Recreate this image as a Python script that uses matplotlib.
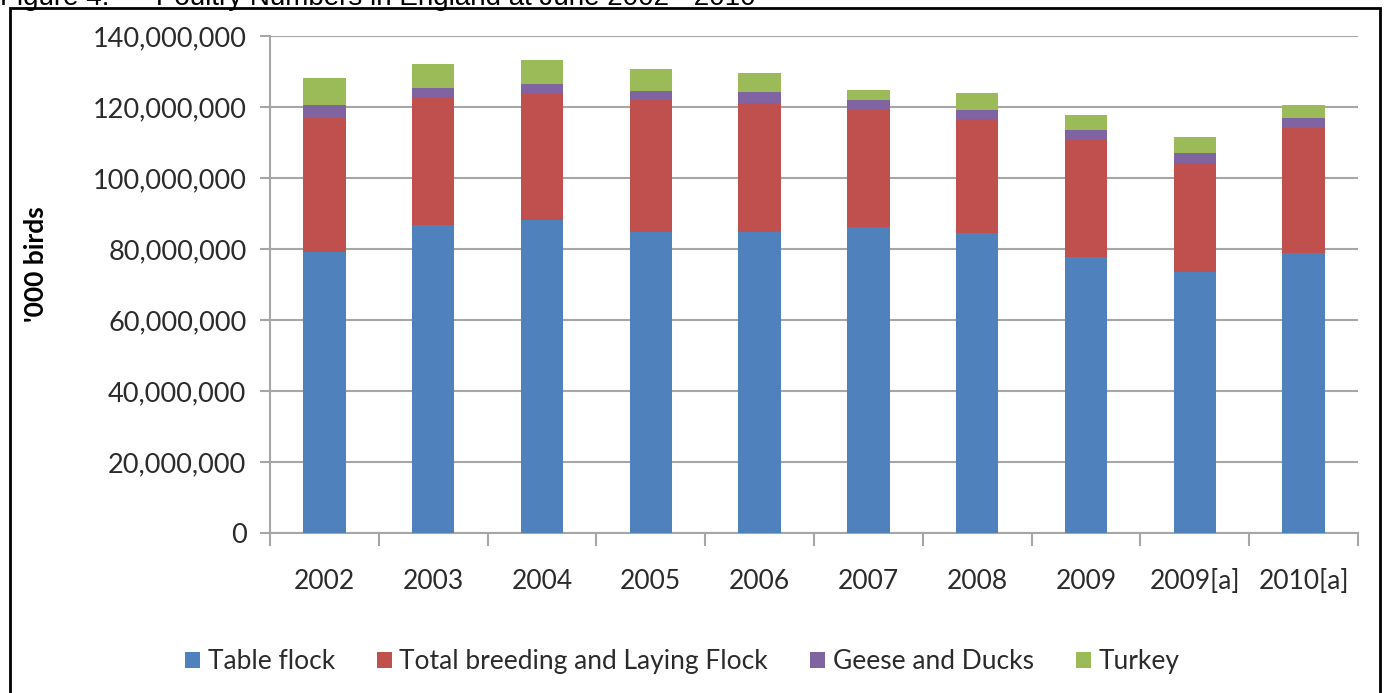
import matplotlib
matplotlib.use('Agg')
import matplotlib.pyplot as plt
from matplotlib.patches import Patch, Rectangle
from matplotlib.ticker import FuncFormatter, MultipleLocator
import numpy as np

# poultry numbers at June
years = ['2002', '2003', '2004', '2005', '2006', '2007', '2008', '2009', '2009[a]', '2010[a]']
table_flock = [79.2, 86.8, 88.2, 84.8, 84.8, 86.2, 84.5, 77.7, 73.5, 78.9]
breeding_laying = [37.7, 36.0, 35.7, 37.2, 36.3, 33.0, 32.1, 33.0, 30.7, 35.2]
geese_ducks = [3.7, 2.6, 2.6, 2.5, 3.1, 2.8, 2.6, 2.8, 2.8, 2.8]
turkey = [7.6, 6.7, 6.7, 6.2, 5.4, 2.8, 4.7, 4.2, 4.5, 3.7]

series = [('Table flock', table_flock, '#4F81BD'),
          ('Total breeding and Laying Flock', breeding_laying, '#C0504D'),
          ('Geese and Ducks', geese_ducks, '#8064A2'),
          ('Turkey', turkey, '#9BBB59')]

plt.rcParams['font.family'] = ['Lato', 'DejaVu Sans']

fig = plt.figure(figsize=[13.84, 6.93], dpi=100)
ax = fig.add_axes([270/1384, 1 - 533/693, (1358-270)/1384, (533-36)/693])

ind = np.arange(len(years))
bottom = np.zeros(len(years))
handles = []
for name, vals, col in series:
    vals = np.array(vals) * 1e6
    ax.bar(ind, vals, 0.39, bottom=bottom, color=col, linewidth=0, zorder=3)
    bottom += vals
    handles.append(Patch(facecolor=col, edgecolor='none', label=name))

ax.set_xlim(-0.5, len(years) - 0.5)
ax.set_ylim(0, 140e6)
ax.yaxis.set_major_locator(MultipleLocator(20e6))
ax.yaxis.set_major_formatter(FuncFormatter(lambda v, p: '{:,.0f}'.format(v)))
ax.grid(axis='y', color='#A6A6A6', linewidth=1.5, zorder=0)

ax.set_xticks(ind)
ax.set_xticklabels(years)
ax.set_xticks(np.arange(len(years) + 1) - 0.5, minor=True)
ax.tick_params(axis='x', which='major', length=0, pad=26, labelsize=19, labelcolor='#2b2b2b')
ax.tick_params(axis='x', which='minor', length=9, width=1.5, color='#A6A6A6')
ax.tick_params(axis='y', length=7, width=1.5, color='#A6A6A6', pad=10, labelsize=19.5, labelcolor='#2b2b2b')

for s in ['top', 'right']:
    ax.spines[s].set_visible(False)
for s in ['left', 'bottom']:
    ax.spines[s].set_color('#A6A6A6')
    ax.spines[s].set_linewidth(1.5)

ax.set_ylabel("'000 birds", fontsize=19, fontweight='bold')
ax.yaxis.set_label_coords(-0.2045, 0.54)

fig.legend(handles=handles, loc='center', bbox_to_anchor=(0.493, 0.045), ncol=4,
           frameon=False, fontsize=19, handlelength=0.55, handleheight=0.55,
           handletextpad=0.3, columnspacing=1.6, labelcolor='#2b2b2b')

# outer frame of the figure box
fig.patches.append(Rectangle((10/1384, -0.05), (1380-10)/1384, 1.05 - 8/693,
                             transform=fig.transFigure, fill=False,
                             edgecolor='black', linewidth=2))
fig.text(0.0, 1 - 5/693, 'Figure 4:      Poultry Numbers in England at June 2002 - 2010',
         fontsize=20, family='Liberation Sans', va='baseline', ha='left')

plt.savefig('out.png', dpi=100)
